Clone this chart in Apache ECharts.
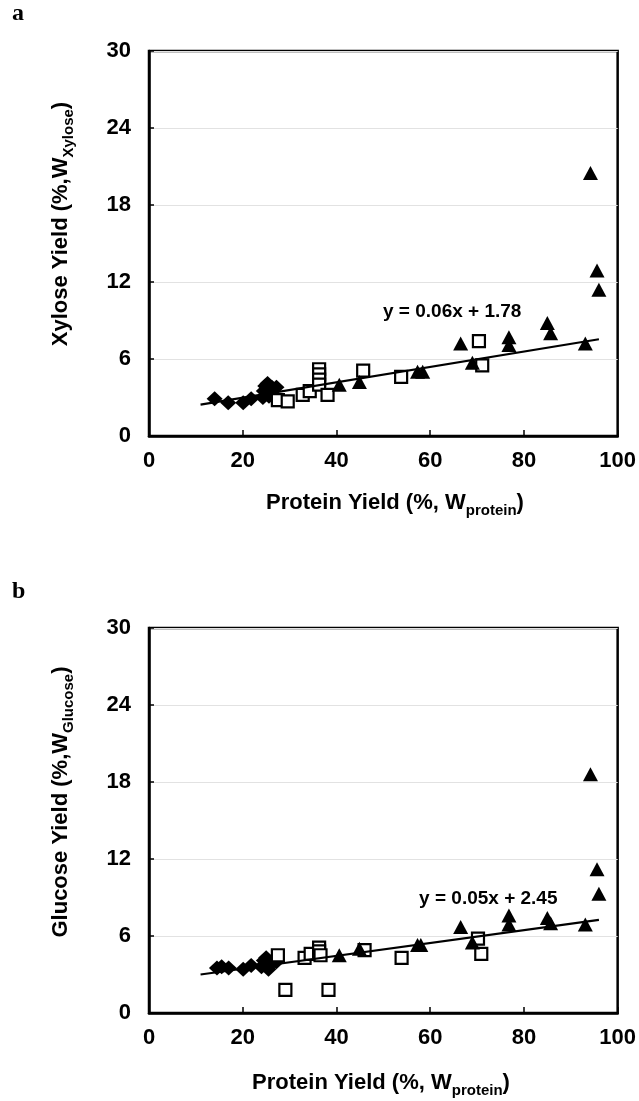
<!DOCTYPE html>
<html>
<head>
<meta charset="utf-8">
<script src="https://cdn.jsdelivr.net/npm/echarts@6/dist/echarts.min.js"></script>
<style>
html,body{margin:0;padding:0;background:#fff;}
#chart{width:639px;height:1101px;}
</style>
</head>
<body>
<div id="chart"></div>
<script>
// ---- Data ----
var xTicks = [0, 20, 40, 60, 80, 100];
var yTicks = [0, 6, 12, 18, 24, 30];

// Panel a: Xylose yield vs protein yield
var xylDiamonds = [[14,2.9],[16.9,2.6],[20.1,2.6],[21.8,2.9],[24.3,3.0],[24.5,3.5],[24.8,3.9],[25.3,4.1],[25.6,3.1],[26.2,3.8],[27.2,3.8]];
var xylSquares = [[27.5,2.8],[29.6,2.7],[32.8,3.2],[34.3,3.5],[36.3,5.2],[36.3,4.8],[36.3,4.4],[36.3,4.0],[38.1,3.2],[45.7,5.1],[53.8,4.6],[70.4,7.4],[71.1,5.5]];
var xylTriangles = [[40.6,4.0],[44.9,4.2],[57.3,5.0],[58.4,5.0],[66.5,7.2],[69.0,5.7],[76.8,7.7],[76.8,7.1],[85.0,8.8],[85.7,8.0],[93.1,7.2],[94.2,20.5],[95.6,12.9],[96.0,11.4]];
var xylFit = {slope: 0.06, intercept: 1.78, from: 11, to: 96, label: 'y = 0.06x + 1.78', at: [64.7, 9.7]};

// Panel b: Glucose yield vs protein yield
var gluDiamonds = [[14.5,3.5],[15.5,3.6],[17,3.5],[20.1,3.4],[21.8,3.7],[24,3.6],[24.5,4.1],[25,4.3],[25.5,3.4],[26.2,3.9],[27.2,4.0]];
var gluSquares = [[27.5,4.5],[29.1,1.8],[33.2,4.3],[34.5,4.6],[36.3,5.1],[36.3,4.8],[36.6,4.5],[38.3,1.8],[46,4.9],[53.9,4.3],[70.2,5.8],[70.9,4.6]];
var gluTriangles = [[40.6,4.5],[44.9,5.0],[57.3,5.3],[58.0,5.3],[66.5,6.7],[69.0,5.5],[76.8,7.6],[76.8,6.9],[85.0,7.4],[85.7,7.0],[93.1,6.9],[94.2,18.6],[95.6,11.2],[96.0,9.3]];
var gluFit = {slope: 0.05, intercept: 2.45, from: 11, to: 96, label: 'y = 0.05x + 2.45', at: [72.4, 8.9]};

var xName = 'Protein Yield (%, W';
var xSub = 'protein';
var yNameA = ['Xylose Yield (%,W', 'Xylose'];
var yNameB = ['Glucose Yield (%,W', 'Glucose'];

// ---- Chart ----
var FONT = '"Liberation Sans", Arial, Helvetica, sans-serif';
var chart = echarts.init(document.getElementById('chart'), null, {renderer: 'canvas'});

function fitLine(f) {
  return [[f.from, f.slope * f.from + f.intercept], [f.to, f.slope * f.to + f.intercept]];
}

function xAxisCfg(gi) {
  return {
    type: 'value', gridIndex: gi, min: 0, max: 100, interval: 20,
    axisLine: {show: true, onZero: false, lineStyle: {color: '#000', width: 2.5}},
    axisTick: {show: true, inside: true, length: 6, lineStyle: {color: '#000', width: 1.5}},
    axisLabel: {color: '#000', fontSize: 22, fontWeight: 'bold', fontFamily: FONT, margin: 14,
      formatter: function (v) { return xTicks.indexOf(v) >= 0 ? String(v) : ''; }},
    splitLine: {show: false}
  };
}
function yAxisCfg(gi) {
  return {
    type: 'value', gridIndex: gi, min: 0, max: 30, interval: 6,
    axisLine: {show: true, onZero: false, lineStyle: {color: '#000', width: 2.5}},
    axisTick: {show: true, inside: true, length: 5, lineStyle: {color: '#000', width: 1.5}},
    axisLabel: {color: '#000', fontSize: 22, fontWeight: 'bold', fontFamily: FONT, margin: 18,
      formatter: function (v) { return yTicks.indexOf(v) >= 0 ? String(v) : ''; }},
    splitLine: {show: true, lineStyle: {color: '#e2e2e2', width: 1}}
  };
}

function seriesFor(gi, dia, sq, tri, fit) {
  return [
    {type: 'scatter', xAxisIndex: gi, yAxisIndex: gi, data: dia, symbol: 'diamond', symbolSize: [16, 15],
      itemStyle: {color: '#000', opacity: 1}, emphasis: {disabled: true}, z: 3},
    {type: 'scatter', xAxisIndex: gi, yAxisIndex: gi, data: sq, symbol: 'rect', symbolSize: 12,
      itemStyle: {color: '#fff', borderColor: '#000', borderWidth: 2.2, opacity: 1}, emphasis: {disabled: true}, z: 4},
    {type: 'scatter', xAxisIndex: gi, yAxisIndex: gi, data: tri, symbol: 'triangle', symbolSize: [15, 14],
      itemStyle: {color: '#000', opacity: 1}, emphasis: {disabled: true}, z: 5},
    {type: 'line', xAxisIndex: gi, yAxisIndex: gi, data: fitLine(fit), symbol: 'none',
      lineStyle: {color: '#000', width: 2.2, opacity: 1}, emphasis: {disabled: true}, z: 6},
    {type: 'scatter', xAxisIndex: gi, yAxisIndex: gi, data: [fit.at], symbolSize: 0, z: 7,
      itemStyle: {opacity: 1}, emphasis: {disabled: true},
      label: {show: true, position: 'inside', formatter: fit.label, color: '#000',
        fontSize: 19, fontWeight: 'bold', fontFamily: FONT}}
  ];
}

function richName(main, sub) {
  return '{m|' + main + '}{s|' + sub + '}{m|)}';
}
var rich = {
  m: {fontSize: 22, fontWeight: 'bold', fontFamily: FONT, color: '#000', verticalAlign: 'bottom', padding: [0, 0, 4, 0]},
  s: {fontSize: 15, fontWeight: 'bold', fontFamily: FONT, color: '#000', verticalAlign: 'bottom'}
};

function txt(x, y, text, rot) {
  return {type: 'text', x: x, y: y, rotation: rot || 0, z: 10,
    style: {text: text, rich: rich, align: 'center', verticalAlign: 'middle', fill: '#000'}};
}

var option = {
  animation: false,
  backgroundColor: '#fff',
  grid: [
    {left: 149, top: 51, width: 470, height: 385, show: true, borderColor: '#000', borderWidth: 2.5, backgroundColor: 'transparent'},
    {left: 149, top: 628, width: 470, height: 385, show: true, borderColor: '#000', borderWidth: 2.5, backgroundColor: 'transparent'}
  ],
  xAxis: [xAxisCfg(0), xAxisCfg(1)],
  yAxis: [yAxisCfg(0), yAxisCfg(1)],
  series: [].concat(
    seriesFor(0, xylDiamonds, xylSquares, xylTriangles, xylFit),
    seriesFor(1, gluDiamonds, gluSquares, gluTriangles, gluFit)
  ),
  graphic: [
    {type: 'text', x: 12, y: 2, style: {text: 'a', fontSize: 24, fontWeight: 'bold', fontFamily: '"Liberation Serif", "Times New Roman", serif', fill: '#000'}},
    {type: 'text', x: 12, y: 580, style: {text: 'b', fontSize: 24, fontWeight: 'bold', fontFamily: '"Liberation Serif", "Times New Roman", serif', fill: '#000'}},
    txt(395, 505, richName(xName, xSub)),
    txt(381, 1085, richName(xName, xSub)),
    txt(63, 224, richName(yNameA[0], yNameA[1]), Math.PI / 2),
    txt(63, 802, richName(yNameB[0], yNameB[1]), Math.PI / 2)
  ]
};
chart.setOption(option);
</script>
</body>
</html>
